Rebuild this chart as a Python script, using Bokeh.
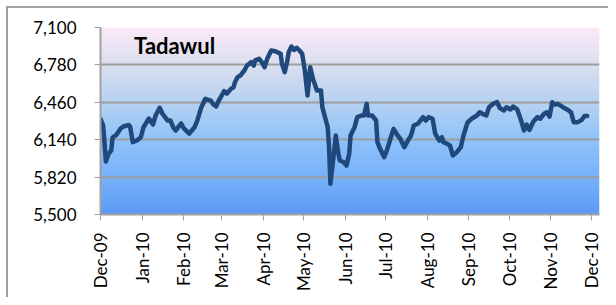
import numpy as np
import pandas as pd
from bokeh.plotting import figure
from bokeh.models import (Range1d, FixedTicker, NumeralTickFormatter, DatetimeTickFormatter,
                          Label)
from bokeh.embed import file_html
from bokeh.resources import INLINE

TITLE = "Tadawul"

DATES = [
    "2009-12-01", "2009-12-03", "2009-12-05", "2009-12-07", "2009-12-09", "2009-12-10",
    "2009-12-13", "2009-12-16", "2009-12-18", "2009-12-22", "2009-12-23", "2009-12-25",
    "2009-12-28", "2009-12-31", "2010-01-02", "2010-01-06", "2010-01-09", "2010-01-11",
    "2010-01-14", "2010-01-16", "2010-01-20", "2010-01-22", "2010-01-24", "2010-01-26",
    "2010-01-30", "2010-02-01", "2010-02-05", "2010-02-09", "2010-02-11", "2010-02-14",
    "2010-02-17", "2010-02-21", "2010-02-23", "2010-02-25", "2010-02-27", "2010-03-03",
    "2010-03-05", "2010-03-08", "2010-03-10", "2010-03-11", "2010-03-13", "2010-03-15",
    "2010-03-18", "2010-03-20", "2010-03-23", "2010-03-25", "2010-03-26", "2010-03-29",
    "2010-03-31", "2010-04-02", "2010-04-04", "2010-04-07", "2010-04-10", "2010-04-14",
    "2010-04-15", "2010-04-17", "2010-04-19", "2010-04-20", "2010-04-22", "2010-04-24",
    "2010-04-26", "2010-04-28", "2010-04-30", "2010-05-02", "2010-05-04", "2010-05-06",
    "2010-05-08", "2010-05-11", "2010-05-14", "2010-05-15", "2010-05-17", "2010-05-19",
    "2010-05-20", "2010-05-21", "2010-05-23", "2010-05-25", "2010-05-27", "2010-05-28",
    "2010-05-31", "2010-06-02", "2010-06-04", "2010-06-05", "2010-06-08", "2010-06-10",
    "2010-06-13", "2010-06-15", "2010-06-17", "2010-06-18", "2010-06-21", "2010-06-24",
    "2010-06-25", "2010-06-27", "2010-06-30", "2010-07-02", "2010-07-05", "2010-07-07",
    "2010-07-10", "2010-07-12", "2010-07-15", "2010-07-17", "2010-07-20", "2010-07-22",
    "2010-07-25", "2010-07-27", "2010-07-29", "2010-07-31", "2010-08-02", "2010-08-05",
    "2010-08-07", "2010-08-10", "2010-08-12", "2010-08-13", "2010-08-16", "2010-08-18",
    "2010-08-20", "2010-08-23", "2010-08-26", "2010-08-28", "2010-08-31", "2010-09-03",
    "2010-09-07", "2010-09-09", "2010-09-12", "2010-09-14", "2010-09-16", "2010-09-19",
    "2010-09-22", "2010-09-24", "2010-09-27", "2010-09-29", "2010-10-02", "2010-10-04",
    "2010-10-07", "2010-10-09", "2010-10-10", "2010-10-12", "2010-10-14", "2010-10-16",
    "2010-10-19", "2010-10-22", "2010-10-24", "2010-10-27", "2010-10-29", "2010-10-31",
    "2010-11-02", "2010-11-04", "2010-11-06", "2010-11-10", "2010-11-14", "2010-11-16",
    "2010-11-18", "2010-11-21", "2010-11-24", "2010-11-26", "2010-11-28",
]

VALUES = [
    6319, 6261, 5953, 6019, 6048, 6159,
    6184, 6236, 6253, 6266, 6253, 6119,
    6133, 6161, 6247, 6321, 6270, 6347,
    6413, 6364, 6304, 6304, 6247, 6219,
    6279, 6236, 6193, 6247, 6304, 6418,
    6490, 6475, 6441, 6424, 6475, 6555,
    6535, 6575, 6589, 6632, 6675, 6689,
    6732, 6775, 6803, 6775, 6818, 6832,
    6803, 6760, 6832, 6903, 6897, 6875,
    6789, 6718, 6818, 6889, 6937, 6909,
    6926, 6903, 6875, 6732, 6518, 6760,
    6661, 6561, 6561, 6418, 6333, 6247,
    6076, 5763, 5962, 6176, 6019, 5962,
    5947, 5919, 6019, 6176, 6247, 6333,
    6347, 6347, 6447, 6347, 6347, 6304,
    6119, 6062, 5990, 6048, 6161, 6233,
    6176, 6148, 6076, 6119, 6176, 6261,
    6276, 6304, 6333, 6304, 6333, 6319,
    6190, 6133, 6161, 6119, 6105, 6090,
    6005, 6033, 6076, 6176, 6287, 6319,
    6347, 6375, 6356, 6347, 6418, 6447,
    6461, 6411, 6390, 6418, 6398, 6424,
    6398, 6333, 6298, 6219, 6270, 6223,
    6296, 6333, 6319, 6362, 6375, 6338,
    6461, 6441, 6447, 6418, 6392, 6373,
    6290, 6290, 6310, 6343, 6343,
]

Y_TICKS = [5500, 5820, 6140, 6460, 6780, 7100]
X_TICK_MONTHS = pd.date_range("2009-12-01", "2010-12-01", freq="MS")

dates = pd.to_datetime(DATES)

x_start = pd.Timestamp("2009-12-01")
x_end = pd.Timestamp("2010-12-07 04:00")

p = figure(width=608, height=297, output_backend="svg", toolbar_location=None,
           x_axis_type="datetime",
           x_range=Range1d(x_start, x_end), y_range=Range1d(5500, 7100),
           min_border_left=100, min_border_right=9, min_border_top=27, min_border_bottom=83)
p.outline_line_color = None
p.background_fill_color = "white"
p.border_fill_color = "white"
p.border_fill_alpha = 0
# outer chart border: top and left edges (the rest lies outside the window)
p.styles = {
    "background": ("linear-gradient(#a0a0a0, #a0a0a0) 6px 6px / 100% 2px no-repeat, "
                   "linear-gradient(#a0a0a0, #a0a0a0) 6px 6px / 2px 100% no-repeat, white"),
}

# gradient background of the plot area
stops = [(0.0, (0x5c, 0x9a, 0xf3)), (0.2, (0x78, 0xb2, 0xfb)), (0.4, (0x90, 0xc3, 0xfa)),
         (0.6, (0xb6, 0xd2, 0xf2)), (0.8, (0xdb, 0xdf, 0xf0)), (1.0, (0xfc, 0xe9, 0xf7))]
N = 256
t = np.linspace(0, 1, N)
pos = [s[0] for s in stops]
r = np.interp(t, pos, [s[1][0] for s in stops])
g = np.interp(t, pos, [s[1][1] for s in stops])
b = np.interp(t, pos, [s[1][2] for s in stops])
img = np.zeros((N, 1), dtype=np.uint32)
view = img.view(dtype=np.uint8).reshape((N, 1, 4))
view[:, 0, 0] = r.astype(np.uint8)
view[:, 0, 1] = g.astype(np.uint8)
view[:, 0, 2] = b.astype(np.uint8)
view[:, 0, 3] = 255
x0_ms = x_start.value / 1e6
dw_ms = (x_end - x_start).total_seconds() * 1000
p.image_rgba(image=[img], x=x0_ms, y=5500, dw=dw_ms, dh=1600, level="image")

# series line
p.line(dates, VALUES, line_width=4.5, line_color="#1F497D", line_join="round", line_cap="round")

# grid
p.xgrid.grid_line_color = None
p.ygrid.grid_line_color = "#9e9e9e"
p.ygrid.grid_line_width = 2
p.ygrid.ticker = FixedTicker(ticks=Y_TICKS)

# axes
for ax in (p.xaxis[0], p.yaxis[0]):
    ax.axis_line_color = "#a0a0a0"
    ax.axis_line_width = 2
    ax.major_tick_line_color = "#a0a0a0"
    ax.major_tick_line_width = 1
    ax.major_tick_out = 6
    ax.major_tick_in = 0
    ax.minor_tick_line_color = None
    ax.major_label_text_color = "#000000"
    ax.major_label_text_font = "Lato"

p.yaxis.ticker = FixedTicker(ticks=Y_TICKS)
p.yaxis.formatter = NumeralTickFormatter(format="0,0")
p.yaxis.major_label_text_font_size = "17px"
p.yaxis.major_label_standoff = 18

p.xaxis.ticker = FixedTicker(ticks=[ts.value / 1e6 for ts in X_TICK_MONTHS])
fmt = "%b-%y"
p.xaxis.formatter = DatetimeTickFormatter(seconds=fmt, minsec=fmt, minutes=fmt, hourmin=fmt,
                                          hours=fmt, days=fmt, months=fmt, years=fmt)
p.xaxis.major_label_orientation = np.pi / 2
p.xaxis.major_label_text_font_size = "17px"
p.xaxis.major_label_standoff = 12

# chart title inside the plot area
p.add_layout(Label(x=pd.Timestamp("2009-12-26").value / 1e6, y=6950, text=TITLE,
                   text_font="Lato", text_font_style="bold", text_font_size="22px",
                   text_align="left", text_baseline="middle", text_color="#000000"))

open("out.html", "w").write(file_html(p, INLINE))
